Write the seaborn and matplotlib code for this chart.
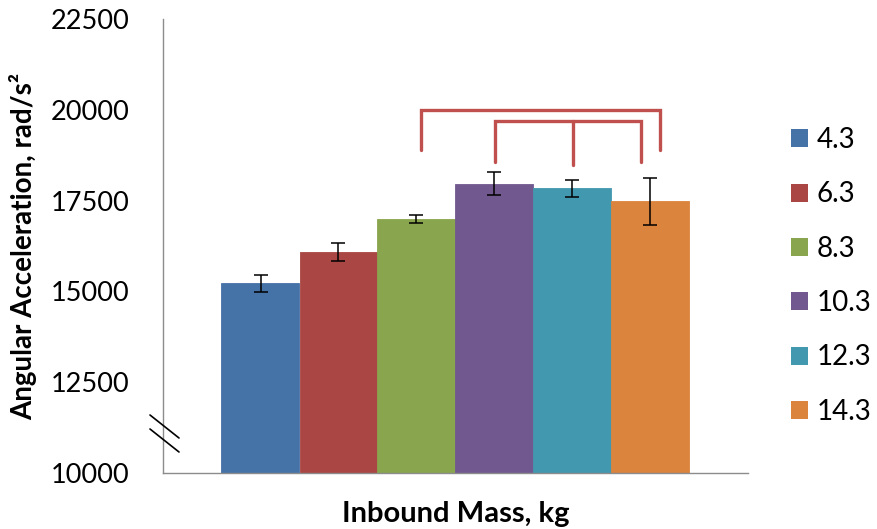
import matplotlib
matplotlib.use("Agg")
import matplotlib.pyplot as plt
from matplotlib.patches import Patch
from matplotlib.lines import Line2D
import seaborn as sns
import pandas as pd

# Inbound mass groups (kg), mean angular acceleration and error half-widths
masses = ["4.3", "6.3", "8.3", "10.3", "12.3", "14.3"]
accel = [15220, 16080, 16990, 17970, 17840, 17480]
accel_err = [235, 240, 100, 320, 240, 650]
colors = ["#4572A7", "#AA4643", "#89A54E", "#71588F", "#4198AF", "#DB843D"]
y_ticks = [10000, 12500, 15000, 17500, 20000, 22500]

# Significance brackets: (left bar, right bar, top y, leg end y)
outer_bracket = (2, 5, 20000, 18900)
inner_bracket = (3, 5, 19680, 18560)
inner_mid = (4, 18470)
bracket_color = "#C0504D"

sns.set_theme(style="white")
plt.rcParams["font.family"] = ["Lato", "DejaVu Sans"]

df = pd.DataFrame({"group": [""] * len(masses), "mass": masses, "accel": accel})

fig = plt.figure(figsize=(8.77, 5.29), dpi=100)
ax = fig.add_axes([163 / 877, 1 - 473 / 529, (748 - 163) / 877, (473 - 19) / 529])

sns.barplot(data=df, x="group", y="accel", hue="mass", hue_order=masses,
            palette=colors, width=0.8, saturation=1, errorbar=None,
            legend=False, ax=ax)

bars = list(ax.patches)[:len(masses)]
for b in bars:
    b.set_edgecolor(b.get_facecolor())
    b.set_linewidth(0.6)
centers = [b.get_x() + b.get_width() / 2 for b in bars]
for b, c, e in zip(bars, centers, accel_err):
    ax.errorbar(c, b.get_height(), yerr=e, fmt="none", ecolor="black",
                elinewidth=1.1, capsize=5, capthick=1.1, zorder=4)

ax.set_xlim(-0.5, 0.5)
ax.set_ylim(10000, 22500)
ax.set_yticks(y_ticks)
ax.set_yticklabels([str(t) for t in y_ticks], fontsize=19.5, color="black")
ax.set_xticks([])
ax.tick_params(axis="y", length=0, pad=24)
for s in ["top", "right"]:
    ax.spines[s].set_visible(False)
for s in ["left", "bottom"]:
    ax.spines[s].set_color("#8C8C8C")
    ax.spines[s].set_linewidth(1.0)

ax.set_xlabel("Inbound Mass, kg", fontsize=21, fontweight="bold", labelpad=20,
              color="black")
ax.set_ylabel("Angular Acceleration, rad/s²", fontsize=20, fontweight="bold",
              labelpad=10, color="black")

# brackets
px = 1.0 / 585
lw = 2.4
l, r, top, leg = outer_bracket
xl, xr = centers[l] + 5 * px, centers[r] + 10 * px
ax.plot([xl, xl, xr, xr], [leg, top, top, leg], color=bracket_color, lw=lw,
        solid_joinstyle="miter", clip_on=False, zorder=5)
l, r, top, leg = inner_bracket
xl, xr = centers[l] + 1 * px, centers[r] - 9 * px
ax.plot([xl, xl, xr, xr], [leg, top, top, leg], color=bracket_color, lw=lw,
        solid_joinstyle="miter", clip_on=False, zorder=5)
m, mleg = inner_mid
xm = centers[m] + 1 * px
ax.plot([xm, xm], [inner_bracket[2], mleg], color=bracket_color, lw=lw,
        clip_on=False, zorder=5)

# axis break marks
for y0 in (415, 429):
    fig.add_artist(Line2D([150 / 877, 179 / 877], [1 - y0 / 529, 1 - (y0 + 23) / 529],
                          color="black", lw=1.2, transform=fig.transFigure))

handles = [Patch(facecolor=c, edgecolor="none", label=m) for c, m in zip(colors, masses)]
fig.legend(handles=handles, loc="upper left", bbox_to_anchor=(791 / 877, 1 - 127 / 529),
           frameon=False, fontsize=20, handlelength=0.62, handleheight=0.62,
           handletextpad=0.3, labelspacing=1.02, borderpad=0, borderaxespad=0,
           labelcolor="black")

fig.savefig("out.png", dpi=100)
